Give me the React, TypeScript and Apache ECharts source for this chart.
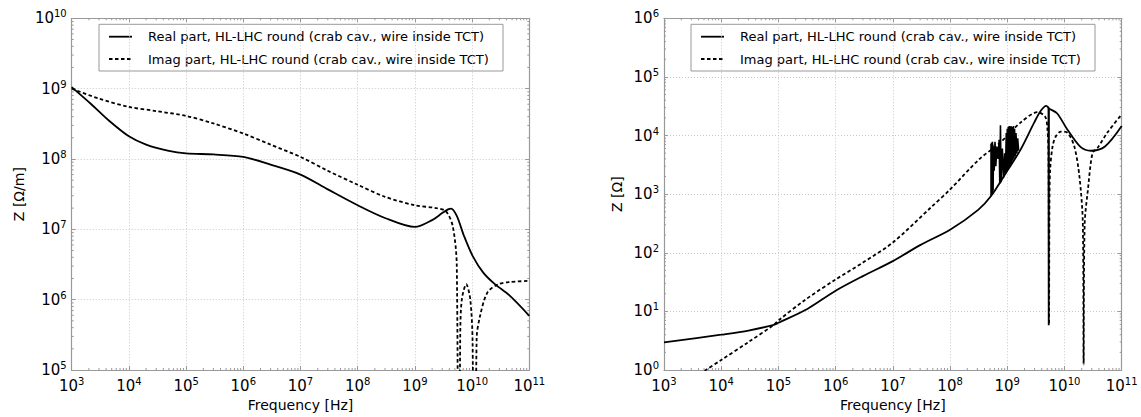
import React, { useEffect, useRef } from "react";
import * as echarts from "echarts";

const REAL_NAME = "Real part, HL-LHC round (crab cav., wire inside TCT)";
const IMAG_NAME = "Imag part, HL-LHC round (crab cav., wire inside TCT)";

const X_MIN = 1e3;
const X_MAX = 1e11;
const LEFT_Y_MIN = 1e5;
const LEFT_Y_MAX = 1e10;
const RIGHT_Y_MIN = 1;
const RIGHT_Y_MAX = 1e6;

const X_NAME = "Frequency [Hz]";
const LEFT_Y_NAME = "Z [Ω/m]";
const RIGHT_Y_NAME = "Z [Ω]";

// ---- Left panel: Z [Ω/m]
const leftRealFreq = [1e3, 2.2e3, 4.5e3, 1e4, 2e4, 5e4, 1e5, 3e5, 1e6, 3e6, 1e7, 3e7, 1e8, 3e8, 1e9, 2e9, 3e9, 3.8e9, 4.3e9, 5.4e9, 7.2e9, 1.02e10, 1.58e10, 2.5e10, 4.5e10, 1e11];
const leftRealZ = [1.05e9, 6e8, 3.5e8, 2.1e8, 1.6e8, 1.3e8, 1.2e8, 1.16e8, 1.07e8, 8.3e7, 6e7, 3.7e7, 2.2e7, 1.45e7, 1.08e7, 1.35e7, 1.7e7, 1.92e7, 1.97e7, 1.55e7, 8.1e6, 4.2e6, 2.4e6, 1.66e6, 1.15e6, 5.9e5];

const leftImagFreq = [1e3, 3e3, 1e4, 3e4, 1e5, 3e5, 1e6, 3e6, 1e7, 3e7, 1e8, 3e8, 1e9, 2.4e9, 3.5e9, 4.6e9, 5.4e9, 5.8e9, 6.2e9, 6.6e9, 7.9e9, 9.3e9, 1.02e10, 1.1e10, 1.2e10, 1.38e10, 1.86e10, 2.9e10, 4.5e10, 1e11];
const leftImagZ = [1e9, 7.2e8, 5.5e8, 4.8e8, 4.1e8, 3.2e8, 2.3e8, 1.6e8, 1.07e8, 6.8e7, 4.3e7, 2.9e7, 2.2e7, 2.0e7, 1.8e7, 1.1e7, 3e6, 1e1, 3e5, 1e6, 1.66e6, 1e6, 2.5e5, 1e1, 2.8e5, 5.9e5, 1.27e6, 1.66e6, 1.78e6, 1.85e6];

// ---- Right panel: Z [Ω]
const rightRealFreq = [1e3, 1e4, 3e4, 8.3e4, 1e5, 3.2e5, 1e6, 3e6, 1e7, 3e7, 1e8, 3.1e8, 5.2e8, 1e9, 1.7e9, 2.95e9, 3.8e9, 4.8e9, 5.25e9, 5.35e9, 7.4e9, 1.12e10, 1.9e10, 2.9e10, 5.1e10, 1e11];
const rightRealZ = [2.95, 4.0, 4.7, 5.9, 6.4, 11, 22.5, 40, 72, 135, 247, 540, 930, 2.5e3, 5.7e3, 1.66e4, 2.6e4, 3.2e4, 3.0e4, 2.9e4, 2.4e4, 1.27e4, 6.4e3, 5.5e3, 6.5e3, 1.45e4];

// narrow resonance spike in the real part
const rightRealDipFreq = [5.25e9, 5.3e9, 5.35e9];
const rightRealDipZ = [3.0e4, 5.8, 2.9e4];

// noisy band of the real part between ~5e8 and ~1.6e9
const rightNoiseFreq = [5.2e8, 5.2e8, 5.25e8, 5.3e8, 5.35e8, 5.4e8, 5.45e8, 5.5e8, 5.55e8, 5.6e8, 5.65e8, 5.75e8, 5.9e8, 6.1e8, 6.3e8, 6.6e8, 6.9e8, 7.2e8, 7.4e8, 7.6e8, 7.8e8, 8.2e8, 8.6e8, 9.0e8, 9.3e8, 9.6e8, 9.8e8, 1.0e9, 1.02e9, 1.04e9, 1.06e9, 1.08e9, 1.1e9, 1.12e9, 1.14e9, 1.16e9, 1.19e9, 1.22e9, 1.25e9, 1.28e9, 1.31e9, 1.34e9, 1.38e9, 1.42e9, 1.47e9, 1.52e9, 1.58e9];
const rightNoiseZ = [930, 7.2e3, 1.0e3, 7.5e3, 1.0e3, 7.4e3, 1.05e3, 7.8e3, 1.1e3, 7.0e3, 1.15e3, 6.5e3, 2.5e3, 7.8e3, 3.0e3, 6.5e3, 4e3, 8.5e3, 1.5e3, 1.5e4, 1.6e3, 6e3, 1.9e3, 5e3, 2.2e3, 1.1e4, 2.4e3, 1.3e4, 2.6e3, 1.4e4, 2.8e3, 1.45e4, 3.0e3, 1.4e4, 3.2e3, 1.45e4, 3.4e3, 1.4e4, 3.7e3, 1.45e4, 4.0e3, 1.3e4, 4.4e3, 1.1e4, 4.9e3, 9e3, 5.5e3];

const rightImagFreq = [1e3, 3e3, 5.4e3, 1e4, 3e4, 8.3e4, 1e5, 3e5, 1e6, 3e6, 1e7, 4.6e7, 1e8, 3.2e8, 7.6e8, 1.7e9, 3.4e9, 4.6e9, 5.0e9, 5.25e9, 5.37e9, 5.45e9, 5.6e9, 6.2e9, 7.1e9, 8.7e9, 1.12e10, 1.48e10, 1.82e10, 2.09e10, 2.16e10, 2.25e10, 2.57e10, 3.1e10, 3.8e10, 5.6e10, 1e11];
const rightImagZ = [0.35, 0.68, 1.0, 1.48, 3.0, 5.9, 7, 16, 35, 68, 150, 590, 1.2e3, 3.9e3, 7.6e3, 1.66e4, 2.5e4, 2.1e4, 1.4e4, 5e3, 6, 500, 2.5e3, 6.6e3, 9.8e3, 1.17e4, 1.12e4, 6.6e3, 2.04e3, 330, 1.25, 300, 1.2e3, 5.1e3, 6.2e3, 1.12e4, 2.3e4];

const MINOR_MULT = [2, 3, 4, 5, 6, 7, 8, 9];

const zip = (a: number[], b: number[]) => a.map((v, i) => [v, b[i]]);

const FONT = "DejaVu Sans";
const FRAME = "#999";
const DASH = [3.5, 2.5];

function minorTicks(lo: number, hi: number) {
  const out: number[] = [];
  for (let e = Math.round(Math.log10(lo)); e < Math.round(Math.log10(hi)); e++) {
    for (const m of MINOR_MULT) out.push(m * Math.pow(10, e));
  }
  return out;
}

const supLabel = (v: number) => {
  const e = Math.round(Math.log10(v));
  return `{b|10}{s|${e}}`;
};

const richLabel = {
  b: { fontSize: 15, fontFamily: FONT, color: "#000" },
  s: { fontSize: 10, fontFamily: FONT, color: "#000", padding: [0, 0, 9, 0] },
};

function legendGraphic(left: number) {
  const top = 24.3;
  const rows = [
    { y: 36.7, text: REAL_NAME, dash: null as any },
    { y: 59, text: IMAG_NAME, dash: DASH },
  ];
  const children: any[] = [
    {
      type: "rect",
      shape: { x: left, y: top, width: 404, height: 46.7 },
      style: { fill: "#fff", stroke: "#999", lineWidth: 1 },
    },
  ];
  for (const r of rows) {
    children.push({
      type: "line",
      shape: { x1: left + 10, y1: r.y, x2: left + 33, y2: r.y },
      style: { stroke: "#000", lineWidth: 1.8, lineDash: r.dash || undefined },
    });
    children.push({
      type: "text",
      x: left + 49,
      y: r.y,
      style: {
        text: r.text,
        fontSize: 13,
        fontFamily: FONT,
        fill: "#000",
        verticalAlign: "middle",
        align: "left",
      },
    });
  }
  return { type: "group", z: 100, children };
}

function App() {
  const ref = useRef<HTMLDivElement>(null);
  useEffect(() => {
    document.body.style.margin = "0";
    const chart = echarts.init(ref.current!, null, { renderer: "svg" });

    const gridDefs = [
      { left: 71.7, top: 18.3, width: 457.6, height: 353.4 },
      { left: 664, top: 18.3, width: 457.7, height: 353.4 },
    ];
    const yRanges = [
      [LEFT_Y_MIN, LEFT_Y_MAX],
      [RIGHT_Y_MIN, RIGHT_Y_MAX],
    ];
    const yNames = [LEFT_Y_NAME, RIGHT_Y_NAME];
    const yNameGaps = [46, 40];

    const xAxes: any[] = [];
    const yAxes: any[] = [];
    for (let g = 0; g < 2; g++) {
      xAxes.push({
        type: "log",
        gridIndex: g,
        position: "bottom",
        min: X_MIN,
        max: X_MAX,
        interval: 1,
        name: X_NAME,
        nameLocation: "middle",
        nameGap: 28,
        nameTextStyle: { fontSize: 14, fontFamily: FONT, color: "#000" },
        axisLine: { show: true, lineStyle: { color: FRAME, width: 1.2 } },
        axisTick: { show: true, inside: true, length: 4, lineStyle: { color: FRAME } },
        axisLabel: { formatter: supLabel, rich: richLabel, margin: 6 },
        splitLine: { show: true, lineStyle: { color: "#c8c8c8", type: [1, 2], width: 1 } },
      });
      xAxes.push({
        type: "log",
        gridIndex: g,
        position: "top",
        min: X_MIN,
        max: X_MAX,
        interval: 1,
        axisLine: { show: true, lineStyle: { color: FRAME, width: 1.2 } },
        axisTick: { show: true, inside: true, length: 4, lineStyle: { color: FRAME } },
        axisLabel: { show: false },
        splitLine: { show: false },
      });
      yAxes.push({
        type: "log",
        gridIndex: g,
        position: "left",
        min: yRanges[g][0],
        max: yRanges[g][1],
        interval: 1,
        name: yNames[g],
        nameLocation: "middle",
        nameGap: yNameGaps[g],
        nameRotate: 90,
        nameTextStyle: { fontSize: 14, fontFamily: FONT, color: "#000" },
        axisLine: { show: true, lineStyle: { color: FRAME, width: 1.2 } },
        axisTick: { show: true, inside: true, length: 4, lineStyle: { color: FRAME } },
        axisLabel: { formatter: supLabel, rich: richLabel, margin: 5 },
        splitLine: { show: true, lineStyle: { color: "#c8c8c8", type: [1, 2], width: 1 } },
      });
      yAxes.push({
        type: "log",
        gridIndex: g,
        position: "right",
        min: yRanges[g][0],
        max: yRanges[g][1],
        interval: 1,
        axisLine: { show: true, lineStyle: { color: FRAME, width: 1.2 } },
        axisTick: { show: true, inside: true, length: 4, lineStyle: { color: FRAME } },
        axisLabel: { show: false },
        splitLine: { show: false },
      });
    }

    const solid = { color: "#000", width: 1.8, type: "solid" };
    const dashed = { color: "#000", width: 1.8, type: DASH };

    const lineSeries = (name: string, g: number, data: number[][], style: any, smooth: number | boolean) => ({
      type: "line",
      name,
      xAxisIndex: g * 2,
      yAxisIndex: g * 2,
      data,
      symbol: "none",
      smooth,
      clip: true,
      color: "#000",
      lineStyle: style,
      z: 5,
    });

    const minorSeries = (g: number) => {
      const xm = minorTicks(X_MIN, X_MAX);
      const ym = minorTicks(yRanges[g][0], yRanges[g][1]);
      const data = [
        ...xm.map((v) => [v, yRanges[g][0], 0]),
        ...ym.map((v) => [X_MIN, v, 1]),
      ];
      return {
        type: "custom",
        xAxisIndex: g * 2,
        yAxisIndex: g * 2,
        silent: true,
        data,
        z: 3,
        renderItem: (params: any, api: any) => {
          const cs = params.coordSys;
          const p = api.coord([api.value(0), api.value(1)]);
          const st = { stroke: FRAME, lineWidth: 1 };
          if (api.value(2) === 0) {
            return {
              type: "group",
              children: [
                { type: "line", shape: { x1: p[0], y1: cs.y + cs.height, x2: p[0], y2: cs.y + cs.height - 2 }, style: st },
                { type: "line", shape: { x1: p[0], y1: cs.y, x2: p[0], y2: cs.y + 2 }, style: st },
              ],
            };
          }
          return {
            type: "group",
            children: [
              { type: "line", shape: { x1: cs.x, y1: p[1], x2: cs.x + 2, y2: p[1] }, style: st },
              { type: "line", shape: { x1: cs.x + cs.width, y1: p[1], x2: cs.x + cs.width - 2, y2: p[1] }, style: st },
            ],
          };
        },
      };
    };

    chart.setOption({
      animation: false,
      backgroundColor: "#fff",
      grid: gridDefs.map((d) => ({ ...d, containLabel: false })),
      xAxis: xAxes,
      yAxis: yAxes,
      graphic: [legendGraphic(99), legendGraphic(691)],
      series: [
        lineSeries(REAL_NAME, 0, zip(leftRealFreq, leftRealZ), solid, 0.3),
        lineSeries(IMAG_NAME, 0, zip(leftImagFreq, leftImagZ), dashed, 0.3),
        lineSeries(REAL_NAME, 1, zip(rightRealFreq, rightRealZ), solid, 0.3),
        lineSeries("real-dip", 1, zip(rightRealDipFreq, rightRealDipZ), solid, false),
        lineSeries("real-noise", 1, zip(rightNoiseFreq, rightNoiseZ), { ...solid, width: 1.6 }, false),
        lineSeries(IMAG_NAME, 1, zip(rightImagFreq, rightImagZ), dashed, 0.3),
        minorSeries(0),
        minorSeries(1),
      ],
    });
    return () => chart.dispose();
  }, []);
  return <div ref={ref} style={{ width: 1141, height: 417 }} />;
}

export default App;
